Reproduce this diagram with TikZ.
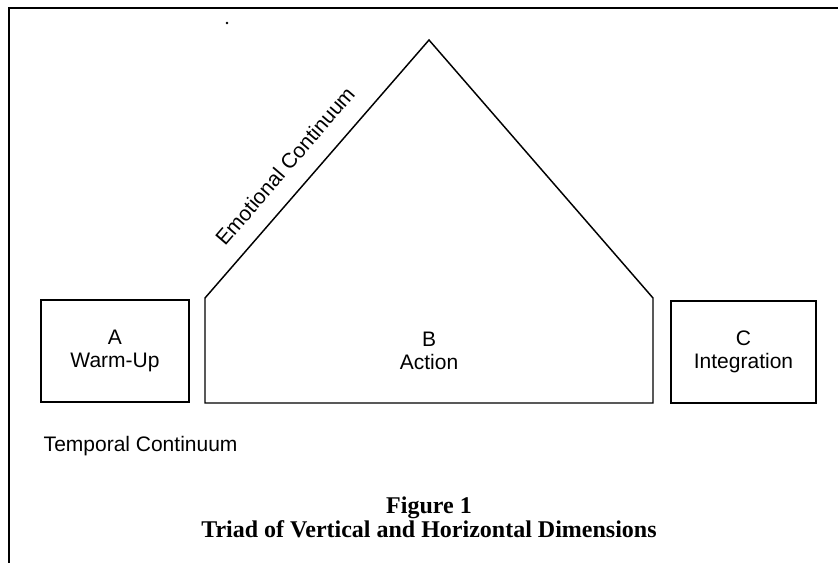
\documentclass[tikz,border=0pt]{standalone}
\usepackage{fontspec}
\setmainfont{Liberation Sans}
\newfontfamily\captionfont{Liberation Serif}

\tikzset{every picture/.style={line width=1.1pt}}
\tikzset{
  phasebox/.style={draw, rectangle, minimum height=76.5pt, inner sep=0pt, align=center,
    font=\fontsize{15.75}{17.25}\selectfont},
  phasetext/.style={align=center, inner sep=0pt, font=\fontsize{15.75}{17.25}\selectfont},
  axislabel/.style={inner sep=0pt, font=\fontsize{15.75}{17.25}\selectfont},
  captiontext/.style={inner sep=0pt, font=\captionfont\bfseries\fontsize{18}{18}\selectfont}
}

\begin{document}
\begin{tikzpicture}[x=0.75pt,y=0.75pt,yscale=-1,xscale=1]
\useasboundingbox (0,0) rectangle (838,563);

%Frame (top and left edges)
\draw [line width=1.5pt] (9,563) -- (9,8) -- (838,8) ;
%stray mark
\fill (227,23) circle (1.3) ;

%Pentagon [id:phaseB]
\coordinate (bl) at (205,403) ;
\coordinate (lt) at (205,298) ;
\coordinate (apex) at (429,40) ;
\coordinate (rt) at (653,298) ;
\coordinate (br) at (653,403) ;
\draw (bl) -- (lt) -- (apex) -- (rt) -- (br) -- cycle ;
% Text Node (along the left slope)
\node [axislabel, rotate=49.3] (emotional) at (285,166) {Emotional Continuum} ;

%Rectangle [id:phaseA]
\node [phasebox, minimum width=111pt] (warmup) at (115,351) {A\\Warm-Up} ;
%Rectangle [id:phaseC]
\node [phasebox, minimum width=108.75pt] (integration) at (743.5,352) {C\\Integration} ;

% Text Node
\node [phasetext] (action) at (429,351) {B\\Action} ;
% Text Node
\node [axislabel, anchor=base west] (temporal) at (43,451) {Temporal Continuum} ;

% Text Node
\node [captiontext, anchor=base] (figlabel) at (429,513) {Figure 1} ;
% Text Node
\node [captiontext, anchor=base] (figtitle) at (429,537) {Triad of Vertical and Horizontal Dimensions} ;

\end{tikzpicture}
\end{document}
